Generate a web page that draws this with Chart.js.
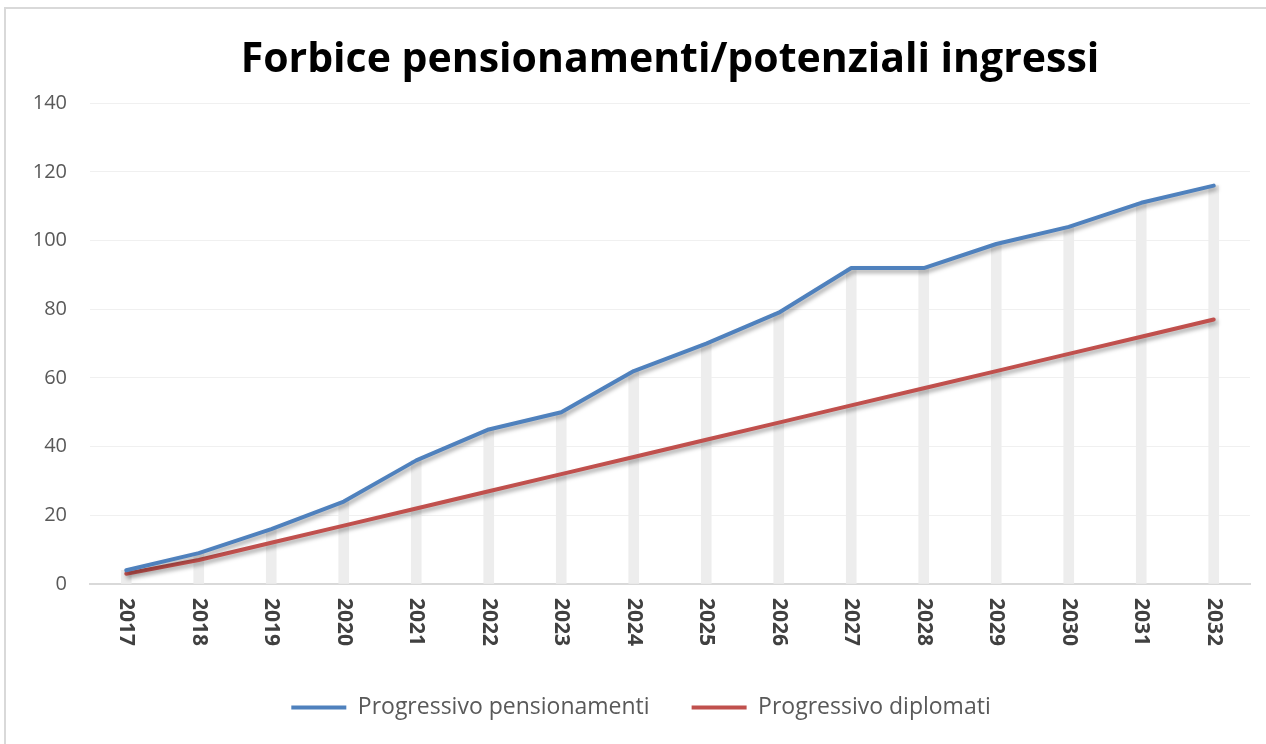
<!DOCTYPE html>
<html>
<head>
<meta charset="utf-8">
<script src="https://cdn.jsdelivr.net/npm/chart.js@4"></script>
<style>
    html, body { margin: 0; padding: 0; background: #fff; overflow: hidden; }
    #wrap {
        position: absolute;
        left: 4px;
        top: 7px;
        width: 1260px;
        height: 735px;
        border-left: 2px solid #d9d9d9;
        border-top: 2px solid #d9d9d9;
    }
</style>
</head>
<body>
<div id="wrap"><canvas id="chart"></canvas></div>
<script>
var years = ["2017", "2018", "2019", "2020", "2021", "2022", "2023", "2024",
    "2025", "2026", "2027", "2028", "2029", "2030", "2031", "2032"];
var pensionamenti = [4, 9, 16, 24, 36, 45, 50, 62, 70, 79, 92, 92, 99, 104, 111, 116];
var diplomati = [3, 7, 12, 17, 22, 27, 32, 37, 42, 47, 52, 57, 62, 67, 72, 77];
var yTicks = [0, 20, 40, 60, 80, 100, 120, 140];

var FONT = "'Open Sans', sans-serif";

// shadow under the two lines, like the excel effect
const lineShadow = {
    id: 'lineShadow',
    beforeDatasetDraw(chart, args) {
        if (args.meta.type !== 'line') return;
        const ctx = chart.ctx;
        ctx.save();
        ctx.shadowColor = 'rgba(0,0,0,0.35)';
        ctx.shadowBlur = 4;
        ctx.shadowOffsetX = 2;
        ctx.shadowOffsetY = 3;
    },
    afterDatasetDraw(chart, args) {
        if (args.meta.type !== 'line') return;
        chart.ctx.restore();
    }
};

// title centred over the plot area, legend nudged a bit right
const blockPos = {
    id: 'blockPos',
    afterLayout(chart) {
        if (chart.titleBlock) {
            chart.titleBlock.left = chart.chartArea.left;
            chart.titleBlock.right = chart.chartArea.right;
        }
        if (chart.legend) {
            chart.legend.left += 13;
            chart.legend.right += 13;
        }
    }
};

// year labels read top to bottom
const yearLabels = {
    id: 'yearLabels',
    afterDraw(chart) {
        const ctx = chart.ctx;
        const xs = chart.scales.x;
        ctx.save();
        ctx.font = "bold 21px " + FONT;
        ctx.fillStyle = '#404040';
        ctx.textAlign = 'left';
        ctx.textBaseline = 'middle';
        years.forEach(function (y, i) {
            const px = xs.getPixelForTick(i);
            ctx.save();
            ctx.translate(px, xs.top + 14);
            ctx.rotate(Math.PI / 2);
            ctx.fillText(y, 0, 0);
            ctx.restore();
        });
        ctx.restore();
    }
};

new Chart(document.getElementById('chart'), {
    type: 'line',
    data: {
        labels: years,
        datasets: [
            {
                label: "Progressivo pensionamenti",
                data: pensionamenti,
                borderColor: '#4F81BD',
                backgroundColor: '#4F81BD',
                borderWidth: 4,
                borderCapStyle: 'round',
                borderJoinStyle: 'round',
                pointRadius: 0,
                tension: 0,
                order: 1
            },
            {
                label: "Progressivo diplomati",
                data: diplomati,
                borderColor: '#C0504D',
                backgroundColor: '#C0504D',
                borderWidth: 4,
                borderCapStyle: 'round',
                borderJoinStyle: 'round',
                pointRadius: 0,
                tension: 0,
                order: 2
            },
            {
                // drop lines
                type: 'bar',
                label: 'drop',
                data: pensionamenti,
                backgroundColor: '#ededed',
                barThickness: 10,
                order: 3
            }
        ]
    },
    options: {
        responsive: true,
        maintainAspectRatio: false,
        animation: false,
        events: [],
        layout: { padding: { left: 0, right: 16, top: 0, bottom: 15 } },
        scales: {
            x: {
                offset: true,
                grid: { display: false },
                border: { display: true, color: '#d9d9d9', width: 2 },
                ticks: { display: false },
                afterFit: function (scale) { scale.height = 70; }
            },
            y: {
                min: 0,
                max: 140,
                afterBuildTicks: function (scale) {
                    scale.ticks = yTicks.map(v => ({ value: v }));
                },
                grid: { color: '#f0f0f0', lineWidth: 1, drawTicks: false },
                border: { display: false },
                ticks: {
                    padding: 23,
                    color: '#595959',
                    font: { family: FONT, size: 20 }
                },
                afterFit: function (scale) { scale.width = 84; }
            }
        },
        plugins: {
            title: {
                display: true,
                text: "Forbice pensionamenti/potenziali ingressi",
                color: '#000',
                font: { family: FONT, size: 41, weight: 'bold', lineHeight: 1.2 },
                padding: { top: 27, bottom: 18 }
            },
            legend: {
                position: 'bottom',
                labels: {
                    filter: item => item.text !== 'drop',
                    usePointStyle: true,
                    pointStyle: 'line',
                    pointStyleWidth: 55,
                    padding: 42,
                    color: '#595959',
                    font: { family: FONT, size: 23 }
                }
            },
            tooltip: { enabled: false }
        }
    },
    plugins: [lineShadow, blockPos, yearLabels]
});
</script>
</body>
</html>
